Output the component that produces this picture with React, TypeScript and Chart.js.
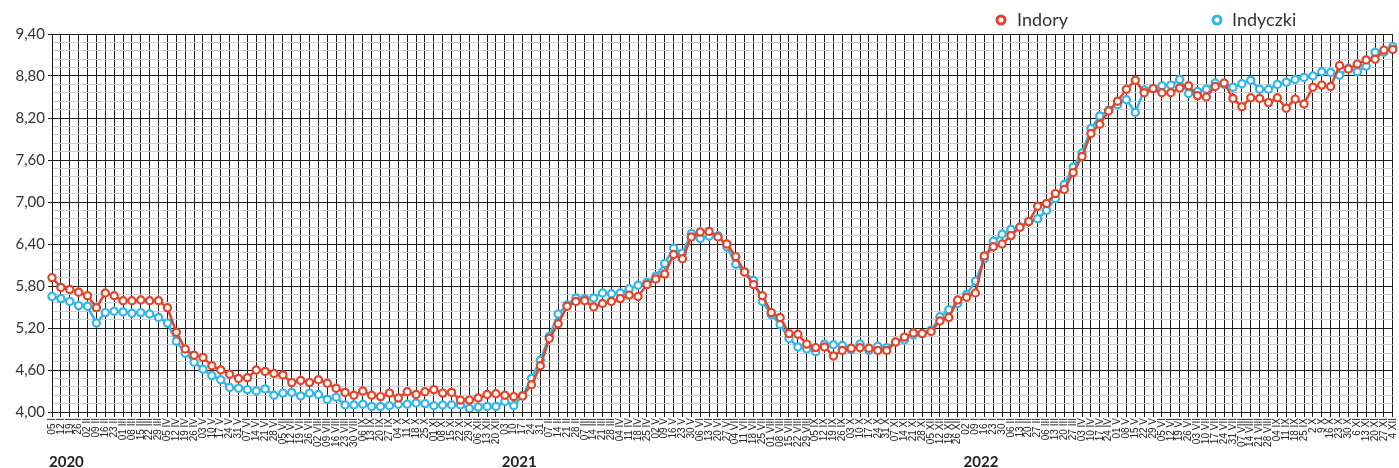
import React, { useEffect, useRef } from 'react';
import { Chart, registerables } from 'chart.js';

Chart.register(...registerables);

const labels2020 = [
  '05 I', '12 I', '19 I', '26 I', '02 II', '09 II', '16 II', '23 II',
  '01 III', '08 III', '15 III', '22 III', '29 III', '05 IV', '12 IV', '19 IV', '26 IV',
  '03 V', '10 V', '17 V', '24 V', '31 V', '07 VI', '14 VI', '21 VI', '28 VI',
  '05 VII', '12 VII', '19 VII', '26 VII', '02 VIII', '09 VIII', '16 VIII', '23 VIII', '30 VIII',
  '06 IX', '13 IX', '20 IX', '27 IX', '04 X', '11 X', '18 X', '25 X',
  '01 XI', '08 XI', '15 XI', '22 XI', '29 XI', '06 XII', '13 XII', '20 XII',
];
const labels2021 = [
  '03 I', '10 I', '17 I', '24 I', '31 I', '07 II', '14 II', '21 II', '28 II',
  '07 III', '14 III', '21 III', '28 III', '04 IV', '11 IV', '18 IV', '25 IV',
  '02 V', '09 V', '16 V', '23 V', '30 V', '06 VI', '13 VI', '20 VI', '27 VI',
  '04 VII', '11 VII', '18 VII', '25 VII', '01 VIII', '08 VIII', '15 VIII', '22 VIII', '29 VIII',
  '05 IX', '12 IX', '19 IX', '26 IX', '03 X', '10 X', '17 X', '24 X', '31 X',
  '07 XI', '14 XI', '21 XI', '28 XI', '05 XII', '12 XII', '19 XII', '26 XII',
];
const labels2022 = [
  '02 I', '09 I', '16 I', '23 I', '30 I', '06 II', '13 II', '20 II', '27 II',
  '06 III', '13 III', '20 III', '27 III', '03 IV', '10 IV', '17 IV', '24 IV',
  '01 V', '08 V', '15 V', '22 V', '29 V', '05 VI', '12 VI', '19 VI', '26 VI',
  '03 VII', '10 VII', '17 VII', '24 VII', '31 VII', '07 VIII', '14 VIII', '21 VIII', '28 VIII',
  '04 IX', '11 IX', '18 IX', '25 IX', '2 X', '9 X', '16 X', '23 X', '30 X',
  '6 XI', '13 XI', '20 XI', '27 XI', '4 XII',
];
const categories = [...labels2020, ...labels2021, ...labels2022];
const yearLabels = ['2020', '2021', '2022'];

const indory = [
  5.92, 5.78, 5.75, 5.71, 5.66, 5.49, 5.70, 5.66, 5.59, 5.59, 5.60, 5.59, 5.59, 5.49, 5.14, 4.90,
  4.81, 4.78, 4.66, 4.60, 4.54, 4.48, 4.49, 4.60, 4.58, 4.55, 4.53, 4.42, 4.45, 4.42, 4.46, 4.41,
  4.34, 4.28, 4.24, 4.30, 4.24, 4.22, 4.27, 4.20, 4.29, 4.25, 4.29, 4.32, 4.27, 4.28, 4.17, 4.17,
  4.20, 4.25, 4.26, 4.24, 4.22, 4.23, 4.39, 4.66, 5.05, 5.26, 5.51, 5.58, 5.59, 5.50, 5.55, 5.58,
  5.62, 5.67, 5.65, 5.82, 5.90, 5.97, 6.25, 6.19, 6.50, 6.57, 6.58, 6.50, 6.40, 6.22, 6.00, 5.82,
  5.66, 5.42, 5.35, 5.12, 5.11, 4.97, 4.92, 4.93, 4.80, 4.88, 4.91, 4.92, 4.91, 4.88, 4.88, 5.00,
  5.07, 5.13, 5.12, 5.15, 5.30, 5.35, 5.60, 5.64, 5.70, 6.23, 6.36, 6.40, 6.52, 6.64, 6.72, 6.94,
  6.98, 7.12, 7.18, 7.42, 7.65, 7.98, 8.11, 8.30, 8.44, 8.61, 8.74, 8.56, 8.62, 8.56, 8.56, 8.63,
  8.66, 8.52, 8.50, 8.65, 8.70, 8.48, 8.36, 8.49, 8.48, 8.42, 8.49, 8.34, 8.47, 8.40, 8.64, 8.67,
  8.65, 8.95, 8.90, 8.97, 9.03, 9.04, 9.17, 9.18,
];
const indyczki = [
  5.65, 5.62, 5.58, 5.52, 5.51, 5.27, 5.42, 5.44, 5.43, 5.41, 5.42, 5.40, 5.35, 5.27, 5.01, 4.84,
  4.71, 4.61, 4.52, 4.46, 4.35, 4.34, 4.32, 4.30, 4.33, 4.24, 4.27, 4.28, 4.23, 4.27, 4.25, 4.18,
  4.21, 4.10, 4.10, 4.11, 4.08, 4.08, 4.09, 4.11, 4.11, 4.13, 4.12, 4.09, 4.10, 4.10, 4.10, 4.05,
  4.07, 4.08, 4.08, 4.15, 4.09, 4.23, 4.48, 4.74, 5.08, 5.40, 5.53, 5.63, 5.62, 5.63, 5.70, 5.69,
  5.70, 5.76, 5.81, 5.85, 5.94, 6.12, 6.34, 6.27, 6.55, 6.48, 6.51, 6.52, 6.36, 6.11, 6.00, 5.88,
  5.58, 5.39, 5.25, 5.05, 4.93, 4.90, 4.86, 4.97, 4.96, 4.95, 4.89, 4.97, 4.88, 4.94, 4.92, 5.00,
  5.03, 5.10, 5.12, 5.17, 5.36, 5.46, 5.55, 5.68, 5.87, 6.19, 6.44, 6.54, 6.61, 6.64, 6.72, 6.76,
  6.88, 7.05, 7.25, 7.50, 7.70, 8.05, 8.23, 8.31, 8.39, 8.46, 8.28, 8.60, 8.62, 8.66, 8.67, 8.75,
  8.55, 8.58, 8.61, 8.70, 8.68, 8.64, 8.69, 8.74, 8.61, 8.61, 8.68, 8.71, 8.75, 8.78, 8.80, 8.86,
  8.85, 8.81, 8.91, 8.86, 8.94, 9.14, 9.14, 9.22,
];

const Y_MIN = 4;
const Y_MAX = 9.4;
const Y_STEP = 0.12;

const RED = '#e3452b';
const BLUE = '#33b6e6';
const GRID_DARK = '#1c1c1c';
const GRID_LIGHT = '#cdcdd8';

export default function App() {
  const ref = useRef<HTMLCanvasElement>(null);

  useEffect(() => {
    document.body.style.margin = '0';
    const yearStarts = [0, labels2020.length, labels2020.length + labels2021.length];

    const extras = {
      id: 'extras',
      afterDraw(chart: any) {
        const ctx = chart.ctx;
        const xs = chart.scales.x;
        ctx.save();
        // year labels
        ctx.font = 'bold 15px Lato';
        ctx.fillStyle = '#222';
        ctx.textAlign = 'left';
        ctx.textBaseline = 'alphabetic';
        yearStarts.forEach((s, k) => {
          ctx.fillText(yearLabels[k], xs.getPixelForValue(s) - 3, 467);
        });
        // legend
        const items = [
          { x: 1001, tx: 1017 },
          { x: 1217, tx: 1232 },
        ];
        chart.data.datasets.forEach((ds: any, k: number) => {
          const it = items[k];
          ctx.beginPath();
          ctx.arc(it.x, 20, 4, 0, Math.PI * 2);
          ctx.fillStyle = '#fff';
          ctx.fill();
          ctx.lineWidth = 3;
          ctx.strokeStyle = ds.borderColor;
          ctx.stroke();
          ctx.font = '18px Lato';
          ctx.fillStyle = '#333';
          ctx.textBaseline = 'middle';
          ctx.fillText(ds.label, it.tx, 20);
        });
        ctx.restore();
      },
    };

    const chart = new Chart(ref.current as HTMLCanvasElement, {
      type: 'line',
      data: {
        labels: categories,
        datasets: [
          {
            label: 'Indory',
            data: indory,
            borderColor: RED,
            backgroundColor: '#fff',
            pointBorderColor: RED,
            pointBackgroundColor: '#fff',
            borderWidth: 2.5,
            pointRadius: 3.6,
            pointBorderWidth: 2.2,
            tension: 0,
          },
          {
            label: 'Indyczki',
            data: indyczki,
            borderColor: BLUE,
            backgroundColor: '#fff',
            pointBorderColor: BLUE,
            pointBackgroundColor: '#fff',
            borderWidth: 2.5,
            pointRadius: 3.6,
            pointBorderWidth: 2.2,
            tension: 0,
          },
        ],
      },
      options: {
        responsive: true,
        maintainAspectRatio: false,
        animation: false,
        layout: { padding: { top: 34, right: 2, left: 0, bottom: 0 } },
        plugins: {
          legend: { display: false },
          tooltip: { enabled: false },
        },
        scales: {
          x: {
            type: 'category',
            offset: false,
            afterFit(scale: any) {
              scale.height = 56;
              scale.paddingLeft = 0;
              scale.paddingRight = 0;
            },
            grid: {
              color: GRID_DARK,
              lineWidth: 1,
              tickLength: 5,
              tickColor: GRID_DARK,
            },
            border: { color: GRID_DARK, width: 1 },
            ticks: {
              autoSkip: false,
              minRotation: 90,
              maxRotation: 90,
              padding: 1,
              color: '#222',
              font: { family: 'Liberation Sans', size: 10 },
            },
          },
          y: {
            type: 'linear',
            min: Y_MIN,
            max: Y_MAX,
            afterFit(scale: any) {
              scale.width = 52;
            },
            grid: {
              color: (c: any) => (c.index % 5 === 0 ? GRID_DARK : GRID_LIGHT),
              tickColor: (c: any) => (c.index % 5 === 0 ? GRID_DARK : 'rgba(0,0,0,0)'),
              lineWidth: 1,
              tickLength: 4,
            },
            border: { color: GRID_DARK, width: 1 },
            ticks: {
              stepSize: Y_STEP,
              autoSkip: false,
              padding: 3,
              color: '#333',
              font: { family: 'Lato', size: 15 },
              callback: (v: any, i: number) => (i % 5 === 0 ? Number(v).toFixed(2).replace('.', ',') : ''),
            },
          },
        },
      },
      plugins: [extras],
    });
    return () => chart.destroy();
  }, []);

  return (
    <div style={{ position: 'relative', width: 1399, height: 468 }}>
      <canvas ref={ref} />
    </div>
  );
}
